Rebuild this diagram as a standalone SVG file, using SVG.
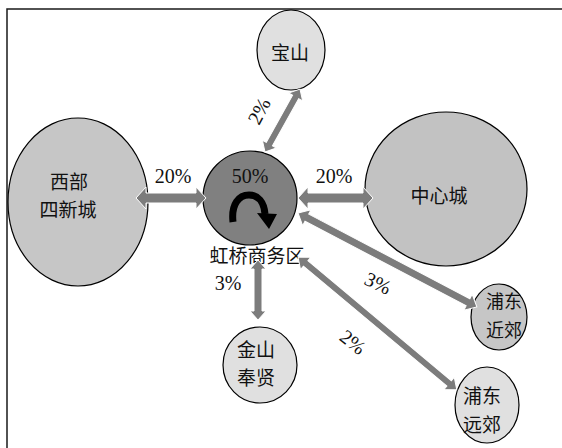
<svg xmlns="http://www.w3.org/2000/svg" width="562" height="448" viewBox="0 0 562 448">
  <defs>
    <style>
      .frame { fill: none; stroke: #1a1a1a; stroke-width: 1.5; }
      .node { stroke: #000; stroke-width: 1.2; }
      .light { fill: #e0e0e0; }
      .mid { fill: #c6c6c6; }
      .dark { fill: #808080; }
      .arrow { fill: #7c7c7c; stroke: #ffffff; stroke-width: 1; }
      .zh { font-family: "Noto Sans CJK SC", "Noto Sans", sans-serif; font-size: 19px; fill: #111; text-anchor: middle; dominant-baseline: central; }
      .num { font-family: "Liberation Serif", "Times New Roman", serif; font-size: 20px; fill: #111; text-anchor: middle; }
    </style>
  </defs>

  <rect width="562" height="448" fill="#ffffff"/>
  <rect class="frame" x="7" y="9" width="580" height="470"/>

  <g id="node-baoshan">
    <ellipse class="node light" cx="291" cy="50" rx="34" ry="40"/>
    <text class="zh" x="290" y="51">宝山</text>
  </g>

  <g id="node-west">
    <ellipse class="node mid" cx="78" cy="202" rx="70" ry="84"/>
    <text class="zh" x="69" y="180">西部</text>
    <text class="zh" x="68" y="208">四新城</text>
  </g>

  <g id="node-hongqiao">
    <circle class="node dark" cx="250" cy="198" r="47"/>
    <text class="num" x="250" y="183">50%</text>
    <!-- turning arrow: inverted U with head on the right leg -->
    <path d="M233,222 C231,204 239,195 249,195 C258,195 264,202 265,214" fill="none" stroke="#000" stroke-width="7"/>
    <polygon points="257,213 277,214 269,229" fill="#000"/>
    <text class="zh" x="257" y="254">虹桥商务区</text>
  </g>

  <g id="node-center">
    <ellipse class="node mid" cx="446" cy="189" rx="81" ry="77" style="fill:#c2c2c2"/>
    <text class="zh" x="439" y="194">中心城</text>
  </g>

  <g id="node-pudong-near">
    <ellipse class="node mid" cx="499" cy="317" rx="28" ry="33"/>
    <text class="zh" x="504" y="300" style="font-size:18px">浦东</text>
    <text class="zh" x="504" y="329" style="font-size:18px">近郊</text>
  </g>

  <g id="node-pudong-far">
    <ellipse class="node light" cx="487" cy="405" rx="32" ry="38"/>
    <text class="zh" x="482" y="394">浦东</text>
    <text class="zh" x="482" y="423">远郊</text>
  </g>

  <g id="node-jinshan">
    <ellipse class="node light" cx="260" cy="365" rx="37" ry="38"/>
    <text class="zh" x="256" y="348">金山</text>
    <text class="zh" x="256" y="376">奉贤</text>
  </g>

  <g id="connectors">
    <!-- west <-> hongqiao -->
    <path class="arrow" transform="translate(136,198)" d="M0,0 L10,-11 L10,-5 L60,-5 L60,-11 L70,0 L60,11 L60,5 L10,5 L10,11 Z"/>
    <!-- hongqiao <-> center -->
    <path class="arrow" transform="translate(298,198)" d="M0,0 L10,-11 L10,-5 L65,-5 L65,-11 L75,0 L65,11 L65,5 L10,5 L10,11 Z"/>
    <!-- hongqiao <-> baoshan -->
    <path class="arrow" transform="translate(265,152) rotate(-60.9)" d="M0,0 L9,-8 L9,-3.5 L63,-3.5 L63,-8 L72,0 L63,8 L63,3.5 L9,3.5 L9,8 Z"/>
    <!-- hongqiao <-> pudong near -->
    <path class="arrow" transform="translate(298,213) rotate(27.7)" d="M0,0 L10,-9 L10,-4 L192,-4 L192,-9 L202,0 L192,9 L192,4 L10,4 L10,9 Z"/>
    <!-- hongqiao <-> pudong far -->
    <path class="arrow" transform="translate(298,257) rotate(39.9)" d="M0,0 L10,-8 L10,-3.5 L197,-3.5 L197,-8 L207,0 L197,8 L197,3.5 L10,3.5 L10,8 Z"/>
    <!-- hongqiao <-> jinshan -->
    <path class="arrow" transform="translate(258,260) rotate(90)" d="M0,0 L9,-8 L9,-4 L51,-4 L51,-8 L60,0 L51,8 L51,4 L9,4 L9,8 Z"/>

    <text class="num" x="173" y="183">20%</text>
    <text class="num" x="334" y="183">20%</text>
    <text class="num" x="228" y="290">3%</text>
    <text class="num" transform="translate(259,111) rotate(-62)" x="0" y="7">2%</text>
    <text class="num" transform="translate(378,283) rotate(25)" x="0" y="7">3%</text>
    <text class="num" transform="translate(353,342) rotate(38)" x="0" y="7">2%</text>
  </g>
</svg>
